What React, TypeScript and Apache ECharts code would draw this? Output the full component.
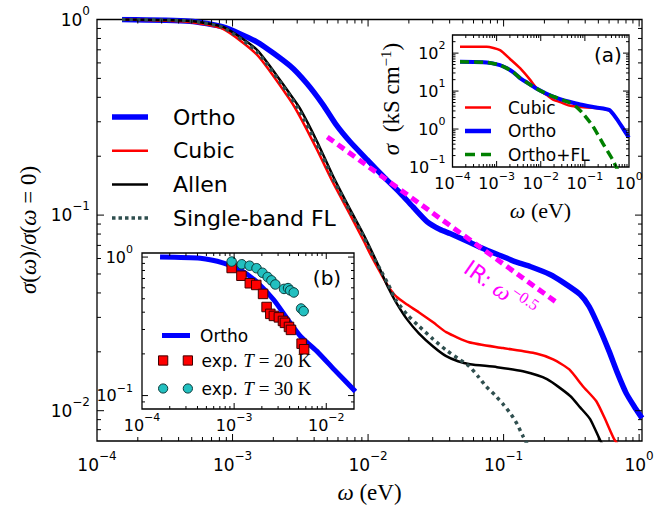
import React, { useEffect, useRef } from 'react';
import * as echarts from 'echarts';

// ---------------- main panel ----------------
const mainXRange = [1e-4, 1.05];
const mainYRange = [0.007, 1];

const orthoX = [1.53e-4, 4.85e-4, 8.5e-4, 1.52e-3, 2.66e-3, 3.55e-3, 4.66e-3, 5.81e-3, 7.37e-3, 9.84e-3, 1.33e-2, 1.72e-2, 2.15e-2, 2.72e-2, 3.4e-2, 4.03e-2, 5.66e-2, 7.06e-2, 9.42e-2, 0.126, 0.157, 0.22, 0.275, 0.367, 0.428, 0.515, 0.601, 0.689, 0.802, 0.918, 1.05];
const orthoY = [1.0, 0.98, 0.916, 0.767, 0.579, 0.469, 0.366, 0.29, 0.237, 0.192, 0.155, 0.13, 0.11, 0.0927, 0.0844, 0.0805, 0.0724, 0.0675, 0.0622, 0.0573, 0.0546, 0.0497, 0.0453, 0.0393, 0.0341, 0.026, 0.0201, 0.0157, 0.0123, 0.01054, 0.00916];

const cubicX = [1.53e-4, 4.85e-4, 8.5e-4, 1.52e-3, 2.66e-3, 3.15e-3, 4.2e-3, 5.52e-3, 7.37e-3, 9.18e-3, 1.07e-2, 1.23e-2, 1.41e-2, 1.61e-2, 1.94e-2, 2.38e-2, 3.02e-2, 3.77e-2, 5.56e-2, 9.91e-2, 0.174, 0.232, 0.304, 0.386, 0.482, 0.561, 0.654, 0.749];
const cubicY = [1.0, 0.971, 0.895, 0.659, 0.388, 0.318, 0.216, 0.1465, 0.1006, 0.075, 0.0607, 0.0509, 0.0432, 0.0384, 0.0349, 0.0318, 0.0283, 0.0252, 0.0224, 0.0209, 0.0196, 0.0183, 0.0163, 0.0133, 0.0112, 0.00906, 0.00716, 0.0063];

const allenX = [1.53e-4, 4.85e-4, 8.5e-4, 1.52e-3, 2.66e-3, 3.15e-3, 4.2e-3, 5.52e-3, 7.37e-3, 9.18e-3, 1.07e-2, 1.23e-2, 1.41e-2, 1.61e-2, 1.94e-2, 2.38e-2, 3.02e-2, 3.77e-2, 4.61e-2, 5.66e-2, 8.95e-2, 0.139, 0.209, 0.31, 0.367, 0.435, 0.515, 0.59];
const allenY = [1.0, 0.983, 0.916, 0.698, 0.415, 0.35, 0.238, 0.158, 0.107, 0.0805, 0.0648, 0.0525, 0.0425, 0.0358, 0.0293, 0.0248, 0.0213, 0.019, 0.0179, 0.0173, 0.0167, 0.0159, 0.0145, 0.0119, 0.0104, 0.00906, 0.00708, 0.006];

const flX = [1.53e-4, 4.85e-4, 8.5e-4, 1.52e-3, 2.66e-3, 3.15e-3, 4.2e-3, 5.52e-3, 7.37e-3, 9.18e-3, 1.07e-2, 1.23e-2, 1.41e-2, 1.61e-2, 1.94e-2, 2.38e-2, 3.02e-2, 3.77e-2, 4.61e-2, 5.56e-2, 6.48e-2, 7.43e-2, 8.65e-2, 9.91e-2, 0.1135, 0.126, 0.139, 0.152];
const flY = [1.0, 0.983, 0.91, 0.682, 0.405, 0.337, 0.229, 0.153, 0.104, 0.0785, 0.0628, 0.0527, 0.0442, 0.0366, 0.031, 0.027, 0.0232, 0.0204, 0.0185, 0.0169, 0.015, 0.0133, 0.012, 0.0108, 0.00959, 0.00853, 0.00741, 0.00659];

const irX = [0.005, 0.25];
const irY = [0.251, 0.0355];

// ---------------- inset (a) ----------------
const aXRange = [1e-4, 1];
const aYRange = [0.1, 300];

const aCubicX = [1.48e-4, 5.97e-4, 1.19e-3, 2.01e-3, 3.4e-3, 5.7e-3, 8.0e-3, 1.37e-2, 1.9e-2, 2.74e-2, 4.46e-2, 0.11, 0.221, 0.373, 0.53, 0.747, 0.99];
const aCubicY = [146, 146, 120, 70, 40, 20, 12, 7.85, 5.97, 5.14, 4.15, 3.68, 3.51, 2.98, 1.83, 1.0, 0.6];

const aOrthoX = [1.48e-4, 5.97e-4, 1.19e-3, 1.68e-3, 2.36e-3, 3.4e-3, 4.65e-3, 7.8e-3, 1.32e-2, 1.9e-2, 2.74e-2, 4.46e-2, 7.8e-2, 0.18, 0.36, 0.53, 0.747, 0.99];
const aOrthoY = [59, 56.9, 48.3, 40.3, 31.6, 22, 17.3, 11.8, 8.6, 7.2, 6.16, 5.22, 4.41, 3.68, 3.16, 1.83, 1.0, 0.6];

const aFLX = [1.48e-4, 5.97e-4, 1.19e-3, 1.68e-3, 2.36e-3, 3.4e-3, 4.65e-3, 7.8e-3, 1.32e-2, 1.9e-2, 2.74e-2, 4.46e-2, 6.3e-2, 8.95e-2, 0.151, 0.255, 0.43, 0.51, 0.6];
const aFLY = [59, 56.9, 48.3, 40.3, 31.6, 22, 17.3, 11.8, 8.6, 7.2, 6.16, 5.0, 3.9, 2.6, 1.2, 0.42, 0.153, 0.1, 0.07];

// ---------------- inset (b) ----------------
const bXRange = [1e-4, 0.02];
const bYRange = [0.08, 1.07];

const bOrthoX = [1.57e-4, 4.3e-4, 7.7e-4, 1.18e-3, 1.81e-3, 2.7e-3, 3.85e-3, 5.3e-3, 8.2e-3, 1.22e-2, 2.07e-2];
const bOrthoY = [1.0, 0.98, 0.905, 0.805, 0.65, 0.49, 0.352, 0.266, 0.204, 0.154, 0.107];

const exp20X = [9.4e-4, 1.2e-3, 1.48e-3, 1.74e-3, 2.06e-3, 2.25e-3, 2.47e-3, 2.7e-3, 3.06e-3, 3.39e-3, 3.56e-3, 3.94e-3, 4.14e-3, 5.4e-3, 5.75e-3];
const exp20Y = [0.834, 0.733, 0.647, 0.629, 0.542, 0.436, 0.389, 0.376, 0.367, 0.346, 0.335, 0.313, 0.298, 0.237, 0.216];

const exp30X = [9.4e-4, 1.21e-3, 1.47e-3, 1.75e-3, 2.03e-3, 2.31e-3, 2.54e-3, 2.8e-3, 3.48e-3, 3.85e-3, 4.06e-3, 4.44e-3, 5.33e-3, 5.68e-3];
const exp30Y = [0.928, 0.887, 0.866, 0.831, 0.77, 0.718, 0.679, 0.634, 0.589, 0.597, 0.575, 0.555, 0.425, 0.407];

const SANS = 'DejaVu Sans';
const SERIF = 'Liberation Serif';

const zip = (xs: number[], ys: number[]) => xs.map((x, i) => [x, ys[i]]);

function powLabel(v: number) {
  const e = Math.log10(v);
  const r = Math.round(e);
  if (Math.abs(e - r) > 0.01) return '';
  const s = r < 0 ? '\u2212' + String(-r) : String(r);
  return `{b|10}{e|${s}}`;
}

function richFor(base: number, exp: number, lh: number, elh: number) {
  return {
    b: { fontFamily: SANS, fontSize: base, lineHeight: lh, verticalAlign: 'middle', color: '#000' },
    e: { fontFamily: SANS, fontSize: exp, lineHeight: elh, verticalAlign: 'top', color: '#000' },
  };
}

function logAxis(gridIndex: number, range: number[], margin: number, rich: any) {
  return {
    gridIndex,
    type: 'log',
    logBase: 10,
    min: range[0],
    max: range[1],
    axisLine: { show: false },
    axisTick: { show: false },
    splitLine: { show: false },
    minorTick: { show: false },
    axisLabel: {
      formatter: powLabel,
      margin,
      rich,
      interval: 0,
      showMinLabel: true,
      showMaxLabel: true,
      hideOverlap: false,
    },
  };
}

function tickData(xr: number[], yr: number[]) {
  const d: number[][] = [];
  const add = (range: number[], cb: (v: number, major: number) => void) => {
    const k0 = Math.floor(Math.log10(range[0]));
    const k1 = Math.ceil(Math.log10(range[1]));
    for (let k = k0; k <= k1; k++) {
      for (let m = 1; m <= 9; m++) {
        const v = m * Math.pow(10, k);
        if (v > range[0] * 1.0001 && v < range[1] * 0.9999) cb(v, m === 1 ? 1 : 0);
      }
    }
  };
  add(xr, (v, major) => d.push([v, yr[0], 0, major]));
  add(yr, (v, major) => d.push([xr[0], v, 1, major]));
  return d;
}

function tickSeries(idx: number, xr: number[], yr: number[], majorLen: number, minorLen: number) {
  return {
    type: 'custom',
    xAxisIndex: idx,
    yAxisIndex: idx,
    silent: true,
    clip: false,
    z: 10,
    data: tickData(xr, yr),
    renderItem: (params: any, api: any) => {
      const cs = params.coordSys;
      const kind = api.value(2);
      const len = api.value(3) ? majorLen : minorLen;
      const st = { stroke: '#000', lineWidth: 1 };
      if (kind === 0) {
        const x = api.coord([api.value(0), api.value(1)])[0];
        const yb = cs.y + cs.height;
        return {
          type: 'group',
          children: [
            { type: 'line', shape: { x1: x, y1: yb, x2: x, y2: yb - len }, style: st },
            { type: 'line', shape: { x1: x, y1: cs.y, x2: x, y2: cs.y + len }, style: st },
          ],
        };
      }
      const y = api.coord([api.value(0), api.value(1)])[1];
      const xr2 = cs.x + cs.width;
      return {
        type: 'group',
        children: [
          { type: 'line', shape: { x1: cs.x, y1: y, x2: cs.x + len, y2: y }, style: st },
          { type: 'line', shape: { x1: xr2, y1: y, x2: xr2 - len, y2: y }, style: st },
        ],
      };
    },
  };
}

function lineSeries(name: string, xs: number[], ys: number[], idx: number, color: string, width: number, type: any, z: number) {
  return {
    type: 'line',
    name,
    xAxisIndex: idx,
    yAxisIndex: idx,
    data: zip(xs, ys),
    symbol: 'none',
    smooth: 0.2,
    z,
    silent: true,
    lineStyle: { color, width, type, cap: 'butt', join: 'round' },
    itemStyle: { color },
    emphasis: { disabled: true },
  };
}

function scatterSeries(name: string, xs: number[], ys: number[], idx: number, symbol: string, color: string, border: string, z: number) {
  return {
    type: 'scatter',
    name,
    xAxisIndex: idx,
    yAxisIndex: idx,
    data: zip(xs, ys),
    symbol,
    symbolSize: 9.5,
    z,
    silent: true,
    itemStyle: { color, borderColor: border, borderWidth: 1, opacity: 1 },
    emphasis: { disabled: true },
  };
}

function gridBox(left: number, top: number, width: number, height: number) {
  return {
    left, top, width, height,
    show: true,
    borderColor: '#000',
    borderWidth: 1.3,
    backgroundColor: 'transparent',
    containLabel: false,
    outerBoundsMode: 'none',
  };
}

const dots = (() => {
  const parts: string[] = [];
  for (let i = 0; i < 6; i++) parts.push(`M${i * 6.5},0h3.5v3.5h-3.5z`);
  return 'path://' + parts.join(' ');
})();

function buildOption() {
  const richMain = richFor(17, 12, 30, 12);
  const richInset = richFor(16, 11, 26, 11);

  const legendText = (size: number) => ({
    g: { width: 1, fontSize: size, lineHeight: size },
    t: { fontFamily: SANS, fontSize: size, lineHeight: size, color: '#000' },
  });

  return {
    animation: false,
    backgroundColor: '#fff',
    grid: [
      gridBox(97, 19.5, 545, 421.5),
      gridBox(452.5, 35, 176.5, 132),
      gridBox(142, 253, 212, 156),
    ],
    xAxis: [
      logAxis(0, mainXRange, 9, richMain),
      logAxis(1, aXRange, 3.5, richInset),
      logAxis(2, bXRange, 3, richInset),
    ],
    yAxis: [
      logAxis(0, mainYRange, 7, richMain),
      logAxis(1, aYRange, 7, richInset),
      logAxis(2, bYRange, 9, richInset),
    ],
    legend: [
      {
        orient: 'vertical', left: 112, top: 106, padding: 0, itemGap: 11.7,
        itemWidth: 36, itemHeight: 22, selectedMode: false, symbolKeepAspect: true,
        formatter: (n: string) => `{g| }{t|${n}}`,
        textStyle: { rich: { ...legendText(22), g: { width: 20, lineHeight: 22 } } },
        data: [
          { name: 'Ortho', icon: 'path://M0,0h36v5.5h-36z', itemStyle: { color: '#0000ff', borderWidth: 0 } },
          { name: 'Cubic', icon: 'path://M0,0h36v2.5h-36z', itemStyle: { color: '#ff0000', borderWidth: 0 } },
          { name: 'Allen', icon: 'path://M0,0h36v2.5h-36z', itemStyle: { color: '#000000', borderWidth: 0 } },
          { name: 'Single-band FL', icon: dots, itemStyle: { color: '#2f4f4f', borderWidth: 0 } },
        ],
      },
      {
        orient: 'vertical', left: 465, top: 99, padding: 0, itemGap: 6.5,
        itemWidth: 26, itemHeight: 16, selectedMode: false, symbolKeepAspect: true,
        formatter: (n: string) => `{g| }{t|${n}}`,
        textStyle: { rich: { ...legendText(17), g: { width: 12, lineHeight: 16 } } },
        data: [
          { name: 'Cubic', icon: 'path://M0,0h26v2.5h-26z', itemStyle: { color: '#ff0000', borderWidth: 0 } },
          { name: 'Ortho', icon: 'path://M0,0h26v4.5h-26z', itemStyle: { color: '#0000ff', borderWidth: 0 } },
          { name: 'Ortho+FL', icon: 'path://M0,0h10v3.5h-10z M16,0h10v3.5h-10z', itemStyle: { color: '#008000', borderWidth: 0 } },
        ],
      },
      {
        orient: 'vertical', left: 162, top: 327, padding: 0, itemGap: 8,
        itemWidth: 28, itemHeight: 16, selectedMode: false, symbolKeepAspect: true,
        formatter: (n: string) => `{g| }{t|${n}}`,
        textStyle: { rich: { ...legendText(17), g: { width: 5, lineHeight: 16 } } },
        data: [
          { name: 'Ortho', icon: 'path://M0,0h28v5h-28z', itemStyle: { color: '#0000ff', borderWidth: 0 } },
        ],
      },
      {
        orient: 'vertical', left: 158, top: 351, padding: 0, itemGap: 9,
        itemWidth: 34, itemHeight: 16, selectedMode: false, symbolKeepAspect: true,
        formatter: (n: string) =>
          n === 'exp20' ? '{g| }{t|exp. }{i|T}{r| = 20 K}' : '{g| }{t|exp. }{i|T}{r| = 30 K}',
        textStyle: {
          rich: {
            ...legendText(17),
            g: { width: 4, lineHeight: 16 },
            i: { fontFamily: SERIF, fontStyle: 'italic', fontSize: 19, lineHeight: 16, color: '#000' },
            r: { fontFamily: SERIF, fontSize: 19, lineHeight: 16, color: '#000' },
          },
        },
        data: [
          { name: 'exp20', icon: 'path://M0,0h9v9h-9z M24,0h9v9h-9z', itemStyle: { color: '#ff0000', borderColor: '#400000', borderWidth: 1 } },
          { name: 'exp30', icon: 'path://M0,4.5a4.5,4.5 0 1,0 9,0a4.5,4.5 0 1,0 -9,0z M24,4.5a4.5,4.5 0 1,0 9,0a4.5,4.5 0 1,0 -9,0z', itemStyle: { color: '#22c0c0', borderColor: '#0a3a3a', borderWidth: 1 } },
        ],
      },
    ],
    series: [
      lineSeries('Ortho', orthoX, orthoY, 0, '#0000ff', 5.5, 'solid', 2),
      lineSeries('Cubic', cubicX, cubicY, 0, '#ff0000', 2.5, 'solid', 3),
      lineSeries('Allen', allenX, allenY, 0, '#000000', 2.5, 'solid', 4),
      lineSeries('Single-band FL', flX, flY, 0, '#2f4f4f', 3.5, [3.5, 4], 5),
      lineSeries('IR', irX, irY, 0, '#ff00ff', 5, [8, 5], 6),
      tickSeries(0, mainXRange, mainYRange, 7, 4),

      lineSeries('Cubic', aCubicX, aCubicY, 1, '#ff0000', 2.5, 'solid', 3),
      lineSeries('Ortho', aOrthoX, aOrthoY, 1, '#0000ff', 4, 'solid', 4),
      lineSeries('Ortho+FL', aFLX, aFLY, 1, '#008000', 3.5, [9, 5], 5),
      tickSeries(1, aXRange, aYRange, 6, 3),

      lineSeries('Ortho', bOrthoX, bOrthoY, 2, '#0000ff', 5, 'solid', 3),
      scatterSeries('exp20', exp20X, exp20Y, 2, 'rect', '#ff0000', '#400000', 5),
      scatterSeries('exp30', exp30X, exp30Y, 2, 'circle', '#22c0c0', '#0a3a3a', 6),
      tickSeries(2, bXRange, bYRange, 6, 3),
    ],
    graphic: [
      {
        type: 'text', x: 369.5, y: 492, silent: true,
        style: {
          text: '{i|ω}{r| (eV)}', align: 'center', verticalAlign: 'middle',
          rich: {
            i: { fontFamily: SERIF, fontStyle: 'italic', fontSize: 23, fill: '#000' },
            r: { fontFamily: SERIF, fontSize: 23, fill: '#000' },
          },
        },
      },
      {
        type: 'text', x: 28, y: 230, rotation: Math.PI / 2, silent: true,
        style: {
          text: '{i|σ}{r|(}{i|ω}{r|)/}{i|σ}{r|(}{i|ω}{r| = 0)}', align: 'center', verticalAlign: 'middle',
          rich: {
            i: { fontFamily: SERIF, fontStyle: 'italic', fontSize: 23, fill: '#000' },
            r: { fontFamily: SERIF, fontSize: 23, fill: '#000' },
          },
        },
      },
      {
        type: 'text', x: 540.5, y: 210, silent: true,
        style: {
          text: '{i|ω}{r| (eV)}', align: 'center', verticalAlign: 'middle',
          rich: {
            i: { fontFamily: SERIF, fontStyle: 'italic', fontSize: 22, fill: '#000' },
            r: { fontFamily: SERIF, fontSize: 22, fill: '#000' },
          },
        },
      },
      {
        type: 'text', x: 391, y: 99, rotation: Math.PI / 2, silent: true,
        style: {
          text: '{i|σ}{r|  (kS cm}{e|−1}{r|)}', align: 'center', verticalAlign: 'middle',
          rich: {
            i: { fontFamily: SERIF, fontStyle: 'italic', fontSize: 23, lineHeight: 26, verticalAlign: 'middle', fill: '#000' },
            r: { fontFamily: SERIF, fontSize: 23, lineHeight: 26, verticalAlign: 'middle', fill: '#000' },
            e: { fontFamily: SERIF, fontSize: 15, lineHeight: 14, verticalAlign: 'top', fill: '#000' },
          },
        },
      },
      {
        type: 'text', x: 608, y: 55, silent: true,
        style: { text: '(a)', align: 'center', verticalAlign: 'middle', fontFamily: SANS, fontSize: 20, fill: '#000' },
      },
      {
        type: 'text', x: 327, y: 278, silent: true,
        style: { text: '(b)', align: 'center', verticalAlign: 'middle', fontFamily: SANS, fontSize: 20, fill: '#000' },
      },
      {
        type: 'text', x: 500, y: 289, rotation: -35 * Math.PI / 180, silent: true,
        style: {
          text: '{a|IR: }{w|ω}{e|−0.5}', align: 'center', verticalAlign: 'middle',
          rich: {
            a: { fontFamily: SANS, fontSize: 22, lineHeight: 30, verticalAlign: 'middle', fill: '#ff00ff' },
            w: { fontFamily: SERIF, fontStyle: 'italic', fontSize: 24, lineHeight: 30, verticalAlign: 'middle', fill: '#ff00ff' },
            e: { fontFamily: SERIF, fontSize: 16, lineHeight: 14, verticalAlign: 'top', fill: '#ff00ff' },
          },
        },
      },
    ],
  };
}

export default function App() {
  const ref = useRef<HTMLDivElement>(null);
  useEffect(() => {
    if (!ref.current) return;
    const chart = echarts.init(ref.current, undefined, { renderer: 'svg' });
    chart.setOption(buildOption() as any);
    return () => chart.dispose();
  }, []);
  return (
    <div
      ref={ref}
      style={{ position: 'absolute', left: 0, top: 0, width: 672, height: 508, background: '#fff' }}
    />
  );
}
